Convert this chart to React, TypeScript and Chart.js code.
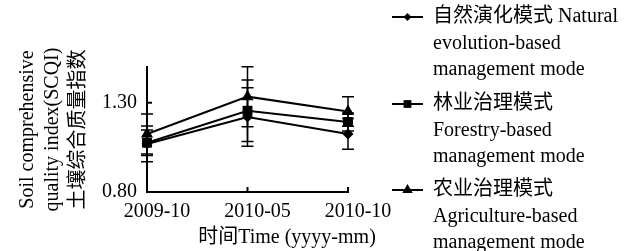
import React, { useEffect, useRef } from 'react';
import { Chart, registerables } from 'chart.js';

Chart.register(...registerables);

// ---- data ----
const categories = ['2009-10', '2010-05', '2010-10'];
const naturalValues = [1.069, 1.22, 1.125];
const naturalErrors = [0.1, 0.164, 0.086];
const forestryValues = [1.076, 1.255, 1.192];
const forestryErrors = [0.071, 0.172, 0.05];
const agricultureValues = [1.125, 1.334, 1.251];
const agricultureErrors = [0.112, 0.168, 0.083];
const yTickValues = [0.8, 1.3];
const yMin = 0.8;
const yMax = 1.5;
const naturalLegend = ['自然演化模式 Natural', 'evolution-based', 'management mode'];
const forestryLegend = ['林业治理模式', 'Forestry-based', 'management mode'];
const agricultureLegend = ['农业治理模式', 'Agriculture-based', 'management mode'];
const yTitle = ['Soil comprehensive', 'quality index(SCQI)', '土壤综合质量指数'];
const xTitle = '时间Time (yyyy-mm)';

const FONT = '"Liberation Serif", "Times New Roman", "Noto Sans CJK SC", serif';

function drawMarker(ctx: CanvasRenderingContext2D, style: string, x: number, y: number, r: number) {
  ctx.beginPath();
  if (style === 'rectRot') {
    ctx.moveTo(x, y - r);
    ctx.lineTo(x + r, y);
    ctx.lineTo(x, y + r);
    ctx.lineTo(x - r, y);
  } else if (style === 'rect') {
    const s = r * Math.SQRT1_2;
    ctx.rect(x - s, y - s, 2 * s, 2 * s);
  } else {
    ctx.moveTo(x, y - r);
    ctx.lineTo(x + r * Math.sin((2 * Math.PI) / 3), y - r * Math.cos((2 * Math.PI) / 3));
    ctx.lineTo(x + r * Math.sin((4 * Math.PI) / 3), y - r * Math.cos((4 * Math.PI) / 3));
  }
  ctx.closePath();
  ctx.fill();
}

const errorBarPlugin = {
  id: 'errorBars',
  beforeDatasetsDraw(chart: any) {
    const { ctx, scales } = chart;
    const x = scales.x;
    const y = scales.y;
    ctx.save();
    ctx.strokeStyle = '#000';
    ctx.lineWidth = 1.5;
    chart.data.datasets.forEach((ds: any) => {
      ds.errors.forEach((e: number, j: number) => {
        const v = ds.data[j];
        const px = x.getPixelForValue(j);
        const top = y.getPixelForValue(v + e);
        const bot = y.getPixelForValue(v - e);
        ctx.beginPath();
        ctx.moveTo(px, top);
        ctx.lineTo(px, bot);
        ctx.moveTo(px - 6, top);
        ctx.lineTo(px + 6, top);
        ctx.moveTo(px - 6, bot);
        ctx.lineTo(px + 6, bot);
        ctx.stroke();
      });
    });
    ctx.restore();
  },
  afterDraw(chart: any) {
    const { ctx, scales, chartArea } = chart;
    const x = scales.x;
    const y = scales.y;
    ctx.save();
    ctx.strokeStyle = '#000';
    ctx.lineWidth = 2;
    // inside tick marks
    categories.forEach((_, i) => {
      const px = x.getPixelForValue(i);
      ctx.beginPath();
      ctx.moveTo(px, chartArea.bottom);
      ctx.lineTo(px, chartArea.bottom - 5);
      ctx.stroke();
    });
    yTickValues.forEach((v) => {
      const py = y.getPixelForValue(v);
      ctx.beginPath();
      ctx.moveTo(chartArea.left, py);
      ctx.lineTo(chartArea.left + 5, py);
      ctx.stroke();
    });
    // x title
    ctx.fillStyle = '#000';
    ctx.font = `20px ${FONT}`;
    ctx.textAlign = 'center';
    ctx.textBaseline = 'middle';
    ctx.fillText(xTitle, 287, 238);
    // legend
    const groupTops = [17, 104, 190];
    const lineGap = 26.5;
    const legendSizes = [4, 5.5, 6];
    chart.data.datasets.forEach((ds: any, i: number) => {
      const gy = groupTops[i];
      ctx.strokeStyle = '#000';
      ctx.lineWidth = 2;
      ctx.beginPath();
      ctx.moveTo(392, gy);
      ctx.lineTo(423, gy);
      ctx.stroke();
      ctx.fillStyle = '#000';
      drawMarker(ctx, ds.pointStyle, 407.5, gy, legendSizes[i]);
      ctx.font = `20px ${FONT}`;
      ctx.textAlign = 'left';
      ctx.textBaseline = 'middle';
      ds.legendLines.forEach((t: string, k: number) => {
        ctx.fillText(t, 433, gy + k * lineGap);
      });
    });
    ctx.restore();
  },
};

export default function App() {
  const canvasRef = useRef<HTMLCanvasElement | null>(null);

  useEffect(() => {
    const canvas = canvasRef.current;
    if (!canvas) return;
    const mk = (label: string, data: number[], errors: number[], pointStyle: string, radius: number, legendLines: string[]) => ({
      label,
      data,
      errors,
      legendLines,
      pointStyle,
      pointRadius: radius,
      borderColor: '#000',
      backgroundColor: '#000',
      pointBackgroundColor: '#000',
      pointBorderColor: '#000',
      pointBorderWidth: 0,
      borderWidth: 2,
      tension: 0,
      clip: false,
    });
    const chart = new Chart(canvas, {
      type: 'line',
      data: {
        labels: categories,
        datasets: [
          mk(naturalLegend.join(' '), naturalValues, naturalErrors, 'rectRot', 5.5, naturalLegend),
          mk(forestryLegend.join(' '), forestryValues, forestryErrors, 'rect', 7, forestryLegend),
          mk(agricultureLegend.join(' '), agricultureValues, agricultureErrors, 'triangle', 7, agricultureLegend),
        ] as any,
      },
      options: {
        responsive: false,
        animation: false,
        devicePixelRatio: 1,
        layout: { padding: { left: 0, top: 67, right: 286, bottom: 0 } },
        plugins: { legend: { display: false }, tooltip: { enabled: false } },
        scales: {
          x: {
            type: 'category',
            offset: false,
            grid: { display: false, drawTicks: false },
            border: { display: true, color: '#000', width: 2 },
            ticks: {
              color: '#000',
              font: { family: FONT, size: 20 },
              padding: 8,
              labelOffset: 10,
              maxRotation: 0,
              autoSkip: false,
            },
            afterFit: (s: any) => {
              s.height = 59;
            },
          },
          y: {
            min: yMin,
            max: yMax,
            grid: { display: false, drawTicks: false },
            border: { display: true, color: '#000', width: 2 },
            ticks: {
              color: '#000',
              font: { family: FONT, size: 20 },
              padding: 10,
              callback: (v: any) => Number(v).toFixed(2),
            },
            afterBuildTicks: (s: any) => {
              s.ticks = yTickValues.map((value) => ({ value }));
            },
            title: {
              display: true,
              text: yTitle,
              color: '#000',
              font: { family: FONT, size: 20, lineHeight: 1.27 },
              padding: { top: 15, bottom: 0 },
            },
            afterFit: (s: any) => {
              s.width = 147;
            },
          },
        },
      } as any,
      plugins: [errorBarPlugin],
    });
    return () => chart.destroy();
  }, []);

  return (
    <div style={{ position: 'fixed', left: 0, top: 0, width: 634, height: 251, background: '#fff' }}>
      <canvas ref={canvasRef} width={634} height={251} style={{ width: 634, height: 251, display: 'block' }} />
    </div>
  );
}
